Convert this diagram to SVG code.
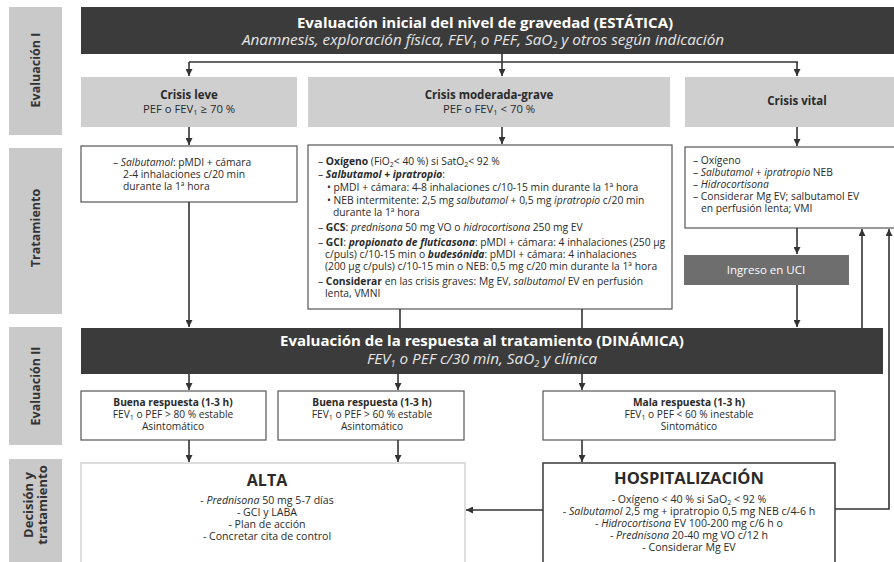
<svg xmlns="http://www.w3.org/2000/svg" width="894" height="562" viewBox="0 0 894 562">
<defs>
<marker id="ah" viewBox="0 0 6 6" refX="6" refY="3" markerWidth="7" markerHeight="7" markerUnits="userSpaceOnUse" orient="auto">
<path d="M0,0 L6,3 L0,6 z" fill="#333"/>
</marker>
<style>
.lbl{fill:#c9c9c9}
.lt{font-family:"Open Sans",Lato,sans-serif;font-weight:bold;font-size:12.5px;fill:#333;text-anchor:middle}
.dark{fill:#3b3b3b}
.crisis{fill:#cfcfcf}
.box{fill:#fff;stroke:#555;stroke-width:1.2}
.t{font-family:"Open Sans",Lato,sans-serif;font-size:10.2px;fill:#2a2a2a}
.s103{font-size:10.3px}
.s106{font-size:10.6px}
.s11{font-size:11.3px}
.s115{font-size:11.5px}
.s16{font-size:16px}
.s165{font-size:16.5px}
.m{text-anchor:middle}
.b{font-weight:bold}
.i{font-style:italic}
.w{fill:#fff}
.ht{font-family:"Open Sans",Lato,sans-serif;font-weight:bold;font-size:15px;fill:#fff;text-anchor:middle}
.hs{font-family:"Open Sans",Lato,sans-serif;font-style:italic;font-size:15.3px;fill:#e6e6e6;text-anchor:middle}
.c{stroke:#333;stroke-width:1.6;fill:none}
.a{marker-end:url(#ah)}
</style>
</defs>
<rect width="894" height="562" fill="#fff"/>

<g id="label-eval1"><rect class="lbl" x="9" y="7" width="53" height="128"/><text class="lt" transform="translate(40,70) rotate(-90)">Evaluación I</text></g>
<g id="label-trat"><rect class="lbl" x="9" y="148" width="53" height="166"/><text class="lt" transform="translate(40,228) rotate(-90)">Tratamiento</text></g>
<g id="label-eval2"><rect class="lbl" x="9" y="327" width="53" height="118"/><text class="lt" transform="translate(40,386) rotate(-90)">Evaluación II</text></g>
<g id="label-decision"><rect class="lbl" x="9" y="459" width="53" height="110"/><text class="lt" style="font-size:13px" transform="translate(33,505) rotate(-90)">Decisión y</text><text class="lt" style="font-size:13px" transform="translate(47,505) rotate(-90)">tratamiento</text></g>

<g id="eval-inicial"><rect class="dark" x="81" y="7" width="815" height="47"/>
<text class="ht" x="485" y="28">Evaluación inicial del nivel de gravedad (ESTÁTICA)</text>
<text class="hs" x="483" y="45">Anamnesis, exploración física, FEV<tspan style="font-size:9px" dy="3">1</tspan><tspan dy="-3"> o PEF, SaO</tspan><tspan style="font-size:9px" dy="3">2</tspan><tspan dy="-3"> y otros según indicación</tspan></text></g>

<g id="crisis-leve"><rect class="crisis" x="81" y="77" width="216" height="50"/>
<text class="t m b s115" x="189" y="99">Crisis leve</text>
<text class="t m s11" x="189" y="113">PEF o FEV<tspan style="font-size:7.5px" dy="2">1</tspan><tspan dy="-2"> ≥ 70 %</tspan></text></g>

<g id="crisis-moderada"><rect class="crisis" x="308" y="77" width="362" height="50"/>
<text class="t m b s115" x="489" y="99">Crisis moderada-grave</text>
<text class="t m s11" x="489" y="113">PEF o FEV<tspan style="font-size:7.5px" dy="2">1</tspan><tspan dy="-2"> &lt; 70 %</tspan></text></g>

<g id="crisis-vital"><rect class="crisis" x="685" y="77" width="211" height="50"/>
<text class="t m b s115" x="797" y="105">Crisis vital</text></g>

<g id="trat-leve"><rect class="box" x="81" y="146" width="216" height="56"/>
<text class="t s103" x="113" y="166">– <tspan class="i">Salbutamol</tspan>: pMDI + cámara</text>
<text class="t s103" x="123" y="178">2-4 inhalaciones c/20 min</text>
<text class="t s103" x="123" y="190">durante la 1ª hora</text></g>

<g id="trat-moderada"><rect class="box" x="308" y="145" width="364" height="164"/>
<text class="t s103" x="318" y="165">– <tspan class="b">Oxígeno</tspan> (FiO<tspan style="font-size:7px" dy="2">2</tspan><tspan dy="-2">&lt; 40 %) si SatO</tspan><tspan style="font-size:7px" dy="2">2</tspan><tspan dy="-2">&lt; 92 %</tspan></text>
<text class="t s103" x="318" y="178">– <tspan class="b i">Salbutamol + ipratropio</tspan>:</text>
<text class="t s103" x="327" y="191">• pMDI + cámara: 4-8 inhalaciones c/10-15 min durante la 1ª hora</text>
<text class="t s103" x="327" y="204">• NEB intermitente: 2,5 mg <tspan class="i">salbutamol</tspan> + 0,5 mg <tspan class="i">ipratropio</tspan> c/20 min</text>
<text class="t s103" x="333" y="216">durante la 1ª hora</text>
<text class="t s103" x="318" y="231">– <tspan class="b">GCS</tspan>: <tspan class="i">prednisona</tspan> 50 mg VO o <tspan class="i">hidrocortisona</tspan> 250 mg EV</text>
<text class="t s103" x="318" y="246">– <tspan class="b">GCI</tspan>: <tspan class="b i">propionato de fluticasona</tspan>: pMDI + cámara: 4 inhalaciones (250 µg</text>
<text class="t s103" x="325" y="258">c/puls) c/10-15 min o <tspan class="b i">budesónida</tspan>: pMDI + cámara: 4 inhalaciones</text>
<text class="t s103" x="325" y="270">(200 µg c/puls) c/10-15 min o NEB: 0,5 mg c/20 min durante la 1ª hora</text>
<text class="t s103" x="318" y="285">– <tspan class="b">Considerar</tspan> en las crisis graves: Mg EV, <tspan class="i">salbutamol</tspan> EV en perfusión</text>
<text class="t s103" x="325" y="297">lenta, VMNI</text></g>

<g id="trat-vital"><rect class="box" x="685" y="147" width="211" height="81"/>
<text class="t s103" x="693" y="164">– Oxígeno</text>
<text class="t s103" x="693" y="176">– <tspan class="i">Salbutamol + ipratropio</tspan> NEB</text>
<text class="t s103" x="693" y="188">– <tspan class="i">Hidrocortisona</tspan></text>
<text class="t s103" x="693" y="200">– Considerar Mg EV; salbutamol EV</text>
<text class="t s103" x="701" y="212">en perfusión lenta; VMI</text></g>

<g id="uci"><rect x="684" y="255" width="165" height="30" fill="#6e6e6e"/>
<text class="t m w s115" x="766" y="274">Ingreso en UCI</text></g>

<g id="eval-respuesta"><rect class="dark" x="81" y="328" width="802" height="46"/>
<text class="ht" x="482" y="346">Evaluación de la respuesta al tratamiento (DINÁMICA)</text>
<text class="hs" x="482" y="364">FEV<tspan style="font-size:9px" dy="3">1</tspan><tspan dy="-3"> o PEF c/30 min, SaO</tspan><tspan style="font-size:9px" dy="3">2</tspan><tspan dy="-3"> y clínica</tspan></text></g>

<g id="buena1"><rect class="box" x="81" y="391" width="185" height="49"/>
<text class="t m b" x="173" y="406">Buena respuesta (1-3 h)</text>
<text class="t m" x="173" y="418">FEV<tspan style="font-size:7px" dy="2">1</tspan><tspan dy="-2"> o PEF &gt; 80 % estable</tspan></text>
<text class="t m" x="173" y="430">Asintomático</text></g>

<g id="buena2"><rect class="box" x="278" y="391" width="186" height="49"/>
<text class="t m b" x="372" y="406">Buena respuesta (1-3 h)</text>
<text class="t m" x="372" y="418">FEV<tspan style="font-size:7px" dy="2">1</tspan><tspan dy="-2"> o PEF &gt; 60 % estable</tspan></text>
<text class="t m" x="372" y="430">Asintomático</text></g>

<g id="mala"><rect class="box" x="543" y="391" width="292" height="49"/>
<text class="t m b" x="689" y="406">Mala respuesta (1-3 h)</text>
<text class="t m" x="689" y="418">FEV<tspan style="font-size:7px" dy="2">1</tspan><tspan dy="-2"> o PEF &lt; 60 % inestable</tspan></text>
<text class="t m" x="689" y="430">Sintomático</text></g>

<g id="alta"><rect x="81" y="463" width="384" height="110" fill="#fff" stroke="#cfcfcf" stroke-width="1.4"/>
<text class="t m b s16" x="267" y="486">ALTA</text>
<text class="t m s106" x="267" y="504">- <tspan class="i">Prednisona</tspan> 50 mg 5-7 días</text>
<text class="t m s106" x="267" y="516">- GCI y LABA</text>
<text class="t m s106" x="267" y="528">- Plan de acción</text>
<text class="t m s106" x="267" y="540">- Concretar cita de control</text></g>

<g id="hospitalizacion"><rect x="543" y="463" width="292" height="110" fill="#fff" stroke="#444" stroke-width="1.6"/>
<text class="t m b s165" x="689" y="484">HOSPITALIZACIÓN</text>
<text class="t m s106" x="689" y="503">- Oxígeno &lt; 40 % si SaO<tspan style="font-size:7px" dy="2">2</tspan><tspan dy="-2"> &lt; 92 %</tspan></text>
<text class="t m s106" x="689" y="515">- <tspan class="i">Salbutamol</tspan> 2,5 mg + ipratropio 0,5 mg NEB c/4-6 h</text>
<text class="t m s106" x="689" y="527">- <tspan class="i">Hidrocortisona</tspan> EV 100-200 mg c/6 h o</text>
<text class="t m s106" x="689" y="539">- <tspan class="i">Prednisona</tspan> 20-40 mg VO c/12 h</text>
<text class="t m s106" x="689" y="551">- Considerar Mg EV</text></g>

<g id="connectors">
<path class="c" d="M189,62 H798"/>
<path class="c a" d="M189,62 V76"/>
<path class="c a" d="M502,54 V76"/>
<path class="c a" d="M797,62 V76"/>
<path class="c a" d="M189,127 V145"/>
<path class="c a" d="M502,127 V144"/>
<path class="c a" d="M797,127 V146"/>
<path class="c a" d="M189,202 V327"/>
<path class="c" d="M400,309 V328"/>
<path class="c" d="M582,309 V328"/>
<path class="c a" d="M797,228 V254"/>
<path class="c a" d="M797,285 V327"/>
<path class="c a" d="M862,328 V229"/>
<path class="c a" d="M835,509 H889 V229"/>
<path class="c a" d="M189,374 V390"/>
<path class="c a" d="M398,374 V390"/>
<path class="c a" d="M582,374 V390"/>
<path class="c a" d="M189,440 V462"/>
<path class="c a" d="M398,440 V462"/>
<path class="c a" d="M582,440 V462"/>
<path class="c a" d="M543,510 H466"/>
</g>
</svg>
